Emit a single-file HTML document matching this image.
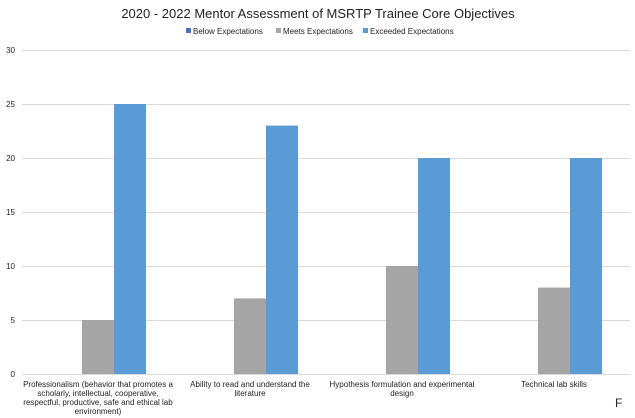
<!DOCTYPE html>
<html><head><style>body{margin:0;background:#fff}svg{display:block}text{font-family:"Liberation Sans",Arial,sans-serif;fill:#222}</style></head>
<body>
<svg width="635" height="418" viewBox="0 0 635 418" xmlns="http://www.w3.org/2000/svg">
<rect width="635" height="418" fill="#fff"/>
<text x="318" y="18" font-size="13" text-anchor="middle">2020 - 2022 Mentor Assessment of MSRTP Trainee Core Objectives</text>
<g font-size="8">
<rect x="186" y="28" width="5" height="5" fill="#4472c4"/><text x="193" y="34">Below Expectations</text>
<rect x="276" y="28" width="5" height="5" fill="#a5a5a5"/><text x="283" y="34">Meets Expectations</text>
<rect x="363" y="28" width="5" height="5" fill="#5b9bd5"/><text x="370" y="34">Exceeded Expectations</text>
</g>
<g stroke="#d9d9d9" stroke-width="1">
<line x1="22" y1="50.5" x2="630" y2="50.5"/><line x1="22" y1="104.5" x2="630" y2="104.5"/>
<line x1="22" y1="158.5" x2="630" y2="158.5"/><line x1="22" y1="212.5" x2="630" y2="212.5"/>
<line x1="22" y1="266.5" x2="630" y2="266.5"/><line x1="22" y1="320.5" x2="630" y2="320.5"/>
<line x1="22" y1="374.5" x2="630" y2="374.5"/>
</g>
<g font-size="8" text-anchor="end">
<text x="15" y="53">30</text><text x="15" y="107">25</text><text x="15" y="161">20</text>
<text x="15" y="215">15</text><text x="15" y="269">10</text><text x="15" y="323">5</text><text x="15" y="377">0</text>
</g>
<g fill="#a5a5a5">
<rect x="82" y="320" width="32" height="54"/><rect x="234" y="298.4" width="32" height="75.6"/>
<rect x="386" y="266" width="32" height="108"/><rect x="538" y="287.6" width="32" height="86.4"/>
</g>
<g fill="#5b9bd5">
<rect x="114" y="104" width="32" height="270"/><rect x="266" y="125.6" width="32" height="248.4"/>
<rect x="418" y="158" width="32" height="216"/><rect x="570" y="158" width="32" height="216"/>
</g>
<g font-size="8" text-anchor="middle">
<text x="98" y="387">Professionalism (behavior that promotes a</text>
<text x="98" y="396">scholarly, intellectual, cooperative,</text>
<text x="98" y="405">respectful, productive, safe and ethical lab</text>
<text x="98" y="414">environment)</text>
<text x="250" y="387">Ability to read and understand the</text>
<text x="250" y="396">literature</text>
<text x="402" y="387">Hypothesis formulation and experimental</text>
<text x="402" y="396">design</text>
<text x="554" y="387">Technical lab skills</text>
</g>
<text x="615" y="407" font-size="12">F</text>
</svg>
</body></html>
